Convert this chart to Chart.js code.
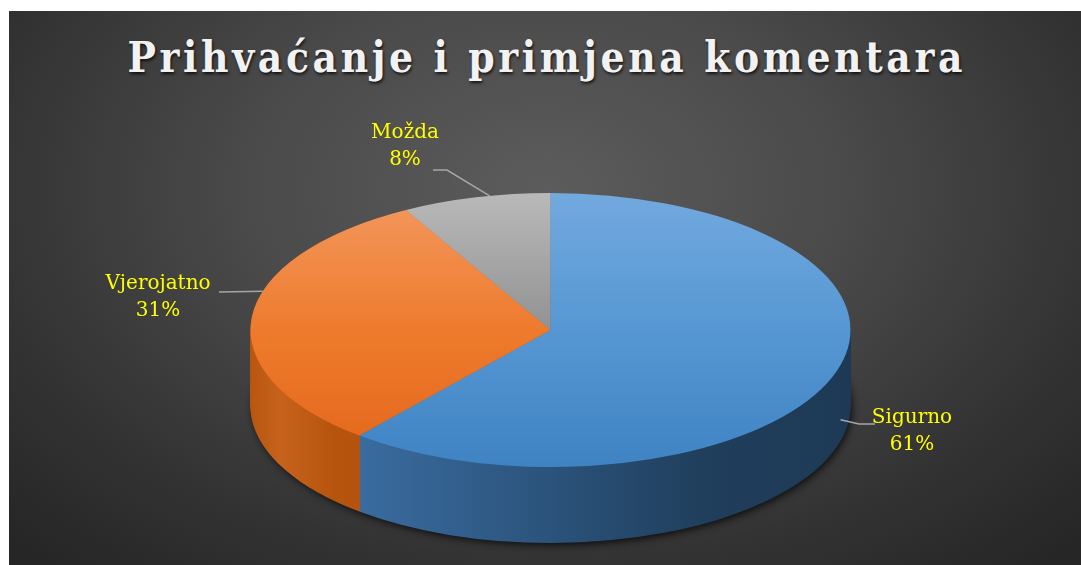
<!DOCTYPE html>
<html>
<head>
<meta charset="utf-8">
<script src="https://cdn.jsdelivr.net/npm/chart.js@4.4.1/dist/chart.umd.min.js"></script>
<style>
  html, body { margin:0; padding:0; background:#ffffff; width:1081px; height:565px; overflow:hidden; }
  #bg { position:absolute; left:9px; top:11px; width:1072px; height:554px;
        background: radial-gradient(ellipse 70% 90% at 50% 32%, #5c5c5c 0%, #4a4a4a 40%, #333333 75%, #262626 100%); }
  #title { position:absolute; left:9px; top:37px; width:1072px; text-align:center;
           font-family:"DejaVu Serif", serif; font-stretch:condensed; font-weight:bold; font-size:42px; line-height:42px;
           color:#f2f2f2; white-space:nowrap; text-shadow: 1px 2px 3px rgba(0,0,0,0.75); }
  #probe { position:absolute; left:-5000px; top:0; font-family:"DejaVu Serif", serif; font-stretch:condensed;
           font-weight:bold; font-size:42px; white-space:nowrap; }
  #c { position:absolute; left:0; top:0; }
</style>
</head>
<body>
<div id="bg"></div>
<div id="title">Prihvaćanje i primjena komentara</div>
<span id="probe"></span>
<canvas id="c" width="1081" height="565"></canvas>
<script>
// ---- data ----
const categories = ['Sigurno', 'Vjerojatno', 'Možda'];
const percentages = [61, 31, 8];

// ---- style ----
const R = 300;            // pie radius (px)
const TILT = 137 / 300;   // vertical flattening of the top face
const DEPTH = 76;         // pie thickness (px, screen)
const TOP_STOPS = [
  [[0, '#72a9df'], [0.5, '#5697d3'], [1, '#3f83c3']],
  [[0, '#f3985f'], [0.5, '#ee7b2d'], [1, '#e2651a']],
  [[0, '#b9b9b9'], [0.5, '#929292'], [1, '#808080']]
];
const SIDE_STOPS = [
  [[0, '#4a82bc'], [0.15, '#3b6ea3'], [0.5, '#2b537b'], [0.75, '#203f5d'], [1, '#1d3955']],
  [[0, '#b8560f'], [0.05, '#c6621b'], [0.14, '#b6540e'], [1, '#a04a0c']],
  [[0, '#8a8a8a'], [1, '#6a6a6a']]
];
const LABEL_FONT = '20px "DejaVu Serif"';
const LABEL_COLOR = '#ffff00';
const LEADER_COLOR = '#a6a6a6';
// text centre, leader start relative to text centre, anchor angle shift (deg), depth share of anchor
const LABEL_LAYOUT = [
  { x: 912, y: 418, lineDx: -37, lineY: 424, elbow: -16, shift: -5,  depthShare: 0.72 },
  { x: 158, y: 284, lineDx: 61,  lineY: 292, elbow: 0,   shift: 11,  depthShare: 0.0 },
  { x: 405, y: 133, lineDx: 28,  lineY: 170, elbow: 14,  shift: 2.7, depthShare: 0.0 }
];

// title letter spacing to fit the reference width
(function fitTitle(){
  const t = document.getElementById('title');
  const probe = document.getElementById('probe');
  const txt = t.textContent;
  probe.textContent = txt;
  const w = probe.getBoundingClientRect().width;
  const target = 835;
  const ls = (target - w) / (txt.length - 1);
  t.style.letterSpacing = ls.toFixed(2) + 'px';
  t.style.textIndent = ls.toFixed(2) + 'px';
})();

function centreOf(chart) {
  const a = chart.chartArea;
  return { cx: (a.left + a.right) / 2, cy: (a.top + a.bottom) / 2 };
}

function topFace(c) {
  const chart = c.chart;
  const stops = TOP_STOPS[c.dataIndex % TOP_STOPS.length];
  if (!chart.chartArea) return stops[0][1];
  const { cy } = centreOf(chart);
  const g = chart.ctx.createLinearGradient(0, cy - R, 0, cy + R);
  stops.forEach(s => g.addColorStop(s[0], s[1]));
  return g;
}

const pie3d = {
  id: 'pie3d',
  beforeDatasetsDraw(chart) {
    const ctx = chart.ctx;
    const meta = chart.getDatasetMeta(0);
    const { cx, cy } = centreOf(chart);
    ctx.save();
    ctx.translate(0, cy);
    ctx.scale(1, TILT);
    ctx.translate(0, -cy);
    const step = 1 / TILT;
    const sides = SIDE_STOPS.map(st => {
      const g = ctx.createLinearGradient(cx - R, 0, cx + R, 0);
      st.forEach(s => g.addColorStop(s[0], s[1]));
      return g;
    });
    const p0 = meta.data[0].getProps(['x', 'y', 'outerRadius'], true);
    ctx.save();
    ctx.shadowColor = 'rgba(0,0,0,0.85)';
    ctx.shadowBlur = 9;
    ctx.shadowOffsetX = 2;
    ctx.shadowOffsetY = 3;
    ctx.fillStyle = '#1a1a1a';
    ctx.beginPath();
    ctx.arc(p0.x, p0.y + (DEPTH - 1) * step, p0.outerRadius - 1, 0, Math.PI * 2);
    ctx.fill();
    ctx.restore();
    for (let d = DEPTH; d >= 1; d--) {
      const off = d * step;
      meta.data.forEach((el, i) => {
        const p = el.getProps(['x', 'y', 'startAngle', 'endAngle', 'outerRadius'], true);
        ctx.fillStyle = sides[i % sides.length];
        ctx.beginPath();
        ctx.moveTo(p.x, p.y + off);
        ctx.arc(p.x, p.y + off, p.outerRadius, p.startAngle, p.endAngle);
        ctx.closePath();
        ctx.fill();
      });
    }
  },
  afterDatasetsDraw(chart) {
    chart.ctx.restore();
  }
};

const labelPlugin = {
  id: 'pieLabels',
  afterDraw(chart) {
    const ctx = chart.ctx;
    const meta = chart.getDatasetMeta(0);
    const { cy } = centreOf(chart);
    const values = chart.data.datasets[0].data;
    const total = values.reduce((a, b) => a + b, 0);
    ctx.save();
    ctx.font = LABEL_FONT;
    ctx.textAlign = 'center';
    ctx.textBaseline = 'middle';
    meta.data.forEach((el, i) => {
      const L = LABEL_LAYOUT[i];
      const p = el.getProps(['x', 'y', 'startAngle', 'endAngle', 'outerRadius'], true);
      const mid = (p.startAngle + p.endAngle) / 2 + L.shift * Math.PI / 180;
      const ax = p.x + p.outerRadius * Math.cos(mid);
      const ay = cy + TILT * p.outerRadius * Math.sin(mid) + L.depthShare * DEPTH;
      const ex = L.x + L.lineDx;
      ctx.strokeStyle = LEADER_COLOR;
      ctx.lineWidth = 1.5;
      ctx.beginPath();
      ctx.moveTo(ex, L.lineY);
      ctx.lineTo(ex + L.elbow, L.lineY);
      ctx.lineTo(ax, ay);
      ctx.stroke();
      ctx.fillStyle = LABEL_COLOR;
      ctx.fillText(chart.data.labels[i], L.x, L.y);
      ctx.fillText(Math.round(values[i] / total * 100) + '%', L.x, L.y + 27);
    });
    ctx.restore();
  }
};

new Chart(document.getElementById('c'), {
  type: 'pie',
  data: {
    labels: categories,
    datasets: [{
      data: percentages,
      backgroundColor: topFace,
      borderWidth: 0,
      radius: R
    }]
  },
  options: {
    responsive: false,
    animation: false,
    events: [],
    rotation: 0,
    layout: { padding: { left: 20, right: 0, top: 95, bottom: 0 } },
    plugins: { legend: { display: false }, tooltip: { enabled: false } }
  },
  plugins: [pie3d, labelPlugin]
});
</script>
</body>
</html>
